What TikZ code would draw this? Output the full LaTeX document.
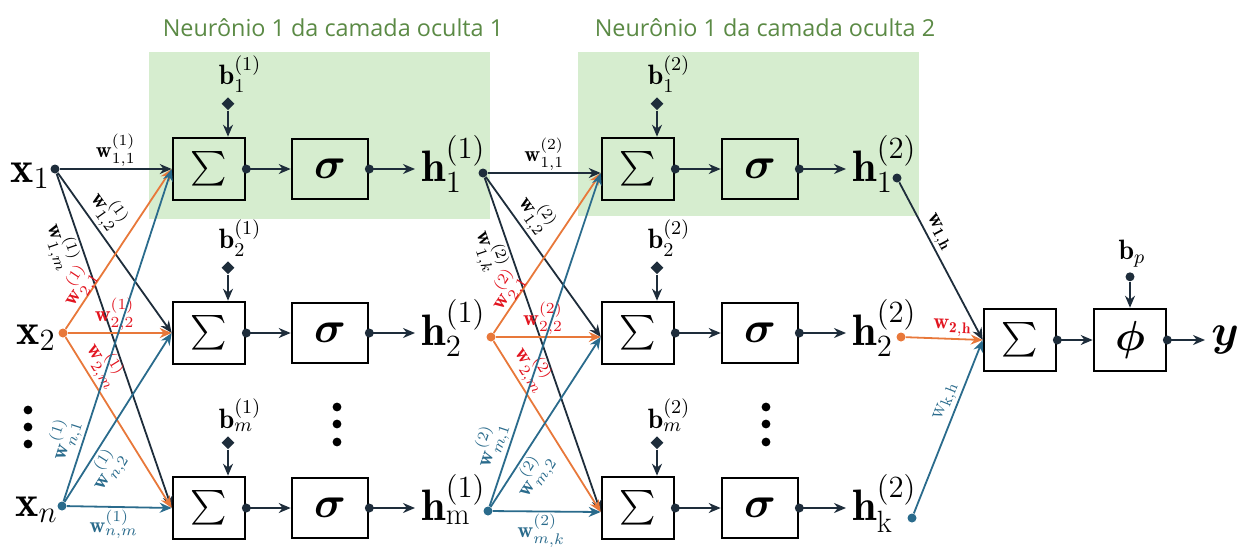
\RequirePackage{fix-cm}
\documentclass[tikz,border=0pt]{standalone}
\usepackage{amsmath,bm}
\usepackage{fontspec}
\newfontfamily\titlefont{Open Sans}
\usetikzlibrary{arrows.meta,positioning,shapes.geometric,calc}
\definecolor{nnnavy}{HTML}{1E2D3B}
\definecolor{nnorange}{HTML}{E8783A}
\definecolor{nnteal}{HTML}{2A6B8C}
\definecolor{nnred}{HTML}{E2141F}
\definecolor{nngreen}{HTML}{D6EDCF}
\definecolor{nntitle}{HTML}{5B8A45}
\tikzset{
  sumb/.style={draw=black, line width=1.3pt, minimum width=36pt, minimum height=31pt, inner sep=0pt, font=\fontsize{19}{22}\selectfont},
  actb/.style={draw=black, line width=1.3pt, minimum width=38pt, minimum height=30pt, inner sep=0pt, font=\fontsize{22}{24}\selectfont},
  big/.style={inner sep=0pt, font=\fontsize{22}{26}\selectfont},
  blab/.style={inner sep=0pt, font=\fontsize{14}{16}\selectfont},
  wlab/.style={inner sep=1pt, font=\fontsize{11}{13}\selectfont, sloped},
  dot/.style={circle, inner sep=0pt, minimum size=4.5pt},
  dia/.style={diamond, fill=nnnavy, inner sep=0pt, minimum size=6.5pt},
  arr/.style={-{Stealth[length=6pt,width=5pt]}, line width=0.9pt, color=nnnavy},
  ttl/.style={text=nntitle, font=\titlefont\fontsize{11.7}{14}\selectfont},
}

\begin{document}
\begin{tikzpicture}[x=0.5pt, y=-0.5pt]
    \useasboundingbox (0,0) rectangle (1238,547);
    % neuron panels
    \fill[nngreen] (149,52) rectangle (490,219);
    \fill[nngreen] (578,52) rectangle (919,216);
    \node[ttl] (t1) at (333,28) {Neurônio 1 da camada oculta 1};
    \node[ttl] (t2) at (765,28) {Neurônio 1 da camada oculta 2};

    % inputs
    \node[dot, fill=nnnavy] (x1) at (55,169) {};
    \node[dot, fill=nnorange] (x2) at (63,333) {};
    \node[dot, fill=nnteal] (xn) at (62,506) {};
    \node[big, anchor=base east] (x1l) at (50,182) {$\mathbf{x}_1$};
    \node[big, anchor=base east] (x2l) at (56,344) {$\mathbf{x}_2$};
    \node[big, anchor=base east] (xnl) at (58,516) {$\mathbf{x}_n$};
    \foreach \y in {410,427,444} \fill (28,\y) circle (2.2pt);

    % hidden layer 1
    \node[sumb] (s1) at (209,169) {$\sum$};
    \node[sumb] (s2) at (209,333) {$\sum$};
    \node[sumb] (s3) at (209,508) {$\sum$};
    \node[actb] (a1) at (330,169) {$\bm{\sigma}$};
    \node[actb] (a2) at (330,333) {$\bm{\sigma}$};
    \node[actb] (a3) at (330,508) {$\bm{\sigma}$};
    \foreach \y in {407,424,442} \fill (337,\y) circle (2.2pt);
    \node[dia, above=13pt of s1, xshift=9.5pt] (d1) {};
    \node[dia, above=13pt of s2, xshift=9.5pt] (d2) {};
    \node[dia, above=13pt of s3, xshift=9.5pt] (d3) {};
    \node[blab, above=2pt of d1, xshift=6pt] (b1) {$\mathbf{b}_1^{(1)}$};
    \node[blab, above=2pt of d2, xshift=6pt] (b2) {$\mathbf{b}_2^{(1)}$};
    \node[blab, above=2pt of d3, xshift=6pt] (b3) {$\mathbf{b}_m^{(1)}$};
    \node[big, anchor=base west] (h1l) at (421,181) {$\mathbf{h}_1^{(1)}$};
    \node[big, anchor=base west] (h2l) at (421,345) {$\mathbf{h}_2^{(1)}$};
    \node[big, anchor=base west] (h3l) at (421,520) {$\mathbf{h}_\mathrm{m}^{(1)}$};
    \foreach \i in {1,2,3} {
      \draw[arr] (d\i) -- (d\i |- s\i.north);
      \draw[arr] (s\i.east) -- (a\i.west);
      \draw[arr, shorten >=3pt] (a\i.east) -- (a\i.east -| h\i l.west);
      \node[dot, fill=nnnavy] at (s\i.east) {};
      \node[dot, fill=nnnavy] at (a\i.east) {};
    }

    \draw[arr] (x1) -- node[wlab, above, text=black] {$\mathbf{w}^{(1)}_{1,1}$} (s1.west);
    \draw[arr] (x1) -- node[wlab, above, pos=.3, text=black] {$\mathbf{w}^{(1)}_{1,2}$} (s2.west);
    \draw[arr] (x1) -- node[wlab, below, pos=.2, text=black] {$\mathbf{w}^{(1)}_{1,m}$} (s3.west);
    \draw[arr, nnorange] (x2) -- node[wlab, above=-3pt, pos=.22, text=nnred] {$\mathbf{w}^{(1)}_{2,1}$} (s1.west);
    \draw[arr, nnorange] (x2) -- node[wlab, above, pos=.45, text=nnred] {$\mathbf{w}^{(1)}_{2,2}$} (s2.west);
    \draw[arr, nnorange] (x2) -- node[wlab, above, pos=.22, text=nnred] {$\mathbf{w}^{(1)}_{2,m}$} (s3.west);
    \draw[arr, nnteal] (xn) -- node[wlab, above, pos=.17, text=nnteal] {$\mathbf{w}^{(1)}_{n,1}$} (s1.west);
    \draw[arr, nnteal] (xn) -- node[wlab, below, pos=.25, text=nnteal] {$\mathbf{w}^{(1)}_{n,2}$} (s2.west);
    \draw[arr, nnteal] (xn) -- node[wlab, below, pos=.45, text=nnteal] {$\mathbf{w}^{(1)}_{n,m}$} (s3.west);

    % hidden layer 2
    \node[dot, fill=nnnavy] (h1) at (483,173) {};
    \node[dot, fill=nnorange] (h2) at (491,337) {};
    \node[dot, fill=nnteal] (h3) at (488,511) {};
    \node[sumb] (u1) at (638,169) {$\sum$};
    \node[sumb] (u2) at (638,333) {$\sum$};
    \node[sumb] (u3) at (638,508) {$\sum$};
    \node[actb] (g1) at (760,169) {$\bm{\sigma}$};
    \node[actb] (g2) at (760,333) {$\bm{\sigma}$};
    \node[actb] (g3) at (760,508) {$\bm{\sigma}$};
    \foreach \y in {407,424,442} \fill (766,\y) circle (2.2pt);
    \node[dia, above=13pt of u1, xshift=9.5pt] (f1) {};
    \node[dia, above=13pt of u2, xshift=9.5pt] (f2) {};
    \node[dia, above=13pt of u3, xshift=9.5pt] (f3) {};
    \node[blab, above=2pt of f1, xshift=6pt] (c1) {$\mathbf{b}_1^{(2)}$};
    \node[blab, above=2pt of f2, xshift=6pt] (c2) {$\mathbf{b}_2^{(2)}$};
    \node[blab, above=2pt of f3, xshift=6pt] (c3) {$\mathbf{b}_m^{(2)}$};
    \node[big, anchor=base west] (k1l) at (852,181) {$\mathbf{h}_1^{(2)}$};
    \node[big, anchor=base west] (k2l) at (852,345) {$\mathbf{h}_2^{(2)}$};
    \node[big, anchor=base west] (k3l) at (852,520) {$\mathbf{h}_\mathrm{k}^{(2)}$};
    \foreach \i in {1,2,3} {
      \coordinate (e\i) at ($(u\i.west)+(0,4)$);
      \draw[arr] (f\i) -- (f\i |- u\i.north);
      \draw[arr] (u\i.east) -- (g\i.west);
      \draw[arr, shorten >=3pt] (g\i.east) -- (g\i.east -| k\i l.west);
      \node[dot, fill=nnnavy] at (u\i.east) {};
      \node[dot, fill=nnnavy] at (g\i.east) {};
    }

    \draw[arr] (h1) -- node[wlab, above, text=black] {$\mathbf{w}^{(2)}_{1,1}$} (e1);
    \draw[arr] (h1) -- node[wlab, above, pos=.3, text=black] {$\mathbf{w}^{(2)}_{1,2}$} (e2);
    \draw[arr] (h1) -- node[wlab, below, pos=.2, text=black] {$\mathbf{w}^{(2)}_{1,k}$} (e3);
    \draw[arr, nnorange] (h2) -- node[wlab, above=-3pt, pos=.22, text=nnred] {$\mathbf{w}^{(2)}_{2,1}$} (e1);
    \draw[arr, nnorange] (h2) -- node[wlab, above, pos=.45, text=nnred] {$\mathbf{w}^{(2)}_{2,2}$} (e2);
    \draw[arr, nnorange] (h2) -- node[wlab, above, pos=.22, text=nnred] {$\mathbf{w}^{(2)}_{2,m}$} (e3);
    \draw[arr, nnteal] (h3) -- node[wlab, above, pos=.17, text=nnteal] {$\mathbf{w}^{(2)}_{m,1}$} (e1);
    \draw[arr, nnteal] (h3) -- node[wlab, below, pos=.25, text=nnteal] {$\mathbf{w}^{(2)}_{m,2}$} (e2);
    \draw[arr, nnteal] (h3) -- node[wlab, below, pos=.45, text=nnteal] {$\mathbf{w}^{(2)}_{m,k}$} (e3);

    % output neuron
    \node[dot, fill=nnnavy] (k1) at (897,178) {};
    \node[dot, fill=nnorange] (k2) at (901,337) {};
    \node[dot, fill=nnteal] (k3) at (912,518) {};
    \node[sumb] (so) at (1020,340) {$\sum$};
    \node[sumb, font=\fontsize{21}{24}\selectfont] (po) at (1130,340) {$\bm{\phi}$};
    \node[dot, fill=nnnavy, above=13pt of po] (bp) {};
    \node[blab, above=2pt of bp, xshift=1pt] (bpl) {$\mathbf{b}_p$};
    \node[big, anchor=base west] (yl) at (1211,345) {$\bm{y}$};
    \draw[arr] (bp) -- (po);
    \draw[arr] (so.east) -- (po.west);
    \draw[arr, shorten >=3pt] (po.east) -- (po.east -| yl.west);
    \node[dot, fill=nnnavy] at (so.east) {};
    \node[dot, fill=nnnavy] at (po.east) {};
    \draw[arr] (k1) -- node[wlab, above, pos=.35, text=black] {$\mathbf{w}_{\mathbf{1,h}}$} (so.west);
    \draw[arr, nnorange] (k2) -- node[wlab, above, pos=.6, text=nnred] {$\mathbf{w}_{\mathbf{2,h}}$} (so.west);
    \draw[arr, nnteal] (k3) -- node[wlab, above, pos=.62, text=nnteal] {$\mathrm{w}_{\mathrm{k,h}}$} (so.west);
\end{tikzpicture}
\end{document}
